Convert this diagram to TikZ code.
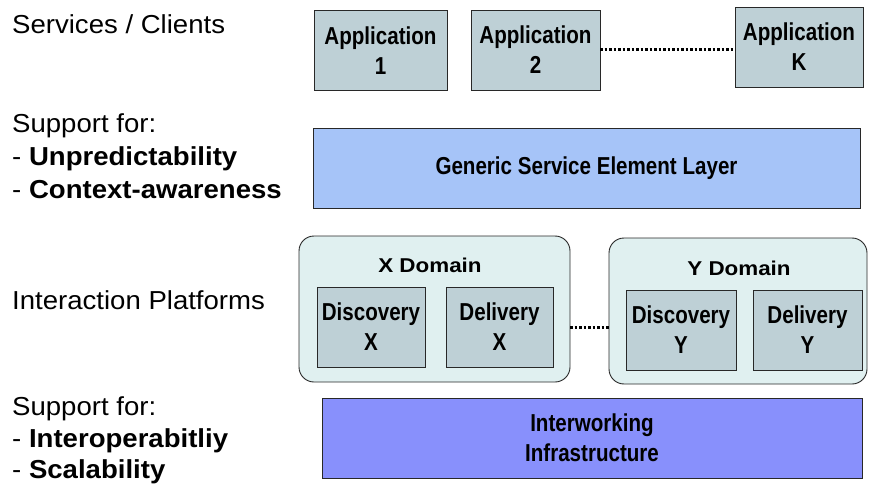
\documentclass[tikz,border=0pt]{standalone}
\usepackage{fontspec}
\setmainfont{Liberation Sans}
\newfontfamily\sidefont[FakeStretch=1.06]{Liberation Sans}
\newfontfamily\boxfont[FakeStretch=0.84]{Liberation Sans}
\newfontfamily\titlefont[FakeStretch=1.12]{Liberation Sans}
\definecolor{appfill}{RGB}{190,208,214}
\definecolor{layerfill}{RGB}{166,196,248}
\definecolor{domfill}{RGB}{224,240,240}
\definecolor{infrafill}{RGB}{136,144,252}
\definecolor{edge}{RGB}{40,40,40}
\tikzset{
  block/.style={draw=edge, line width=0.9pt, inner sep=0pt, outer sep=0pt,
    align=center, font=\boxfont\bfseries\fontsize{24.5}{30}\selectfont},
  appbox/.style={block, fill=appfill, minimum height=80pt},
  domainbox/.style={draw=edge, line width=0.9pt, fill=domfill, rounded corners=15pt,
    inner sep=0pt, outer sep=0pt, minimum height=146pt},
  domtitle/.style={anchor=base, inner sep=0pt, font=\titlefont\bfseries\fontsize{20}{24}\selectfont},
  sidetext/.style={anchor=base west, inner sep=0pt, font=\sidefont\fontsize{26}{32}\selectfont},
  dotline/.style={line width=3pt, dash pattern=on 2.6pt off 1.9pt, black}
}
\begin{document}
\begin{tikzpicture}[x=1pt, y=-1pt]
\useasboundingbox (0,0) rectangle (869,489);

% side captions
\node[sidetext] (cap1) at (12,34) {Services / Clients};
\node[sidetext] (cap2) at (12,133) {Support for:};
\node[sidetext] (cap3) at (12,165) {- \textbf{Unpredictability}};
\node[sidetext] (cap4) at (12,198) {- \textbf{Context-awareness}};
\node[sidetext] (cap5) at (12,309) {Interaction Platforms};
\node[sidetext] (cap6) at (12,415) {Support for:};
\node[sidetext] (cap7) at (12,447) {- \textbf{Interoperabitliy}};
\node[sidetext] (cap8) at (12,478) {- \textbf{Scalability}};

% applications
\node[appbox, minimum width=133pt] (app1) at (380.5,50.5) {Application\\1};
\node[appbox, minimum width=129pt] (app2) at (535.5,50) {Application\\2};
\node[appbox, minimum width=128pt] (appk) at (799,47) {Application\\K};
\draw[dotline] (app2.east) -- (appk.west |- app2.east);

% generic service element layer
\node[block, fill=layerfill, minimum width=547pt, minimum height=80pt] (gsel) at (586.5,168)
  {Generic Service Element Layer};

% interaction platforms
\node[domainbox, minimum width=271pt] (xdom) at (434.5,309) {};
\node[domainbox, minimum width=258pt] (ydom) at (738,311) {};
\node[domtitle] (xtitle) at (430,272) {X Domain};
\node[domtitle] (ytitle) at (739,275) {Y Domain};
\node[appbox, minimum width=108pt] (discx) at (371,327) {Discovery\\X};
\node[appbox, minimum width=107pt] (delx) at (499.5,327) {Delivery\\X};
\node[appbox, minimum width=110pt] (discy) at (681,330) {Discovery\\Y};
\node[appbox, minimum width=109pt] (dely) at (807.5,330) {Delivery\\Y};
\draw[dotline] (xdom.east |- discx.center) -- (ydom.west |- discx.center);

% interworking infrastructure
\node[block, fill=infrafill, minimum width=540pt, minimum height=80pt] (infra) at (592,438)
  {Interworking\\Infrastructure};
\end{tikzpicture}
\end{document}
